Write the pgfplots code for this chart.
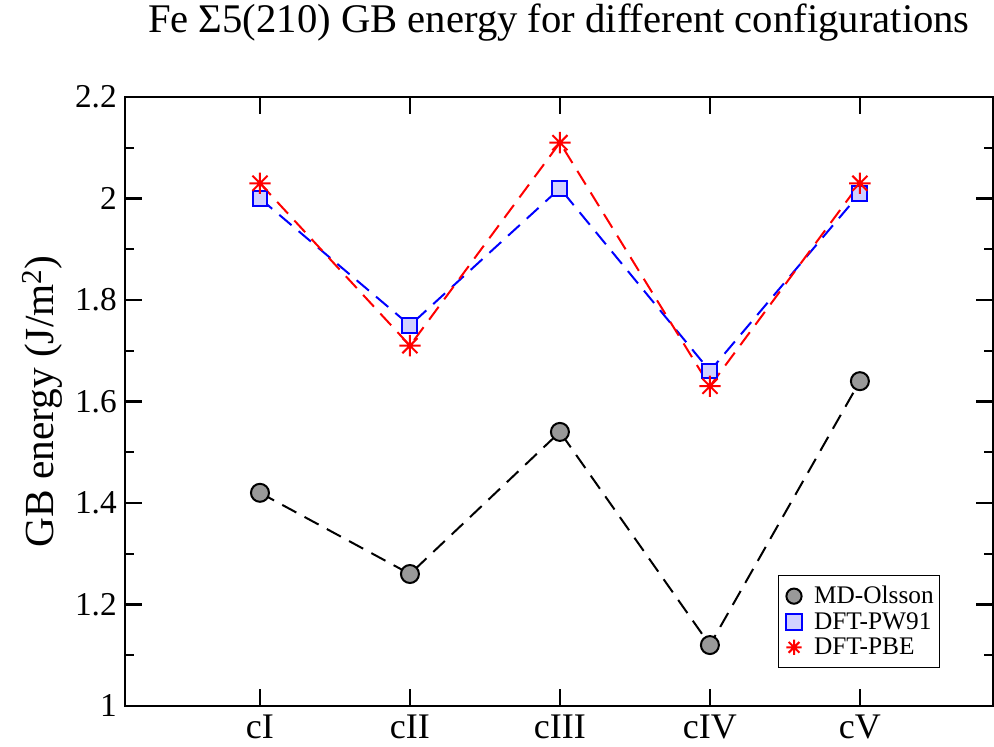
\documentclass[border=0pt]{standalone}
\usepackage{pgfplots}
\pgfplotsset{compat=1.18}
\usepackage{pgfplotstable}
\usepackage{fontspec}
\setmainfont{Liberation Serif}

% 8-spoke asterisk as drawn by xmgrace
\pgfdeclareplotmark{gstar}{%
  \pgfpathmoveto{\pgfqpoint{0pt}{\pgfplotmarksize}}\pgfpathlineto{\pgfqpoint{0pt}{-\pgfplotmarksize}}%
  \pgfpathmoveto{\pgfqpoint{\pgfplotmarksize}{0pt}}\pgfpathlineto{\pgfqpoint{-\pgfplotmarksize}{0pt}}%
  \pgfpathmoveto{\pgfqpoint{0.707\pgfplotmarksize}{0.707\pgfplotmarksize}}\pgfpathlineto{\pgfqpoint{-0.707\pgfplotmarksize}{-0.707\pgfplotmarksize}}%
  \pgfpathmoveto{\pgfqpoint{-0.707\pgfplotmarksize}{0.707\pgfplotmarksize}}\pgfpathlineto{\pgfqpoint{0.707\pgfplotmarksize}{-0.707\pgfplotmarksize}}%
  \pgfusepathqstroke}

\pgfplotstableread{
x  y
1  1.42
2  1.26
3  1.54
4  1.12
5  1.64
}\olsson
\pgfplotstableread{
x  y
1  2.00
2  1.75
3  2.02
4  1.66
5  2.01
}\pwn
\pgfplotstableread{
x  y
1  2.03
2  1.71
3  2.11
4  1.63
5  2.03
}\pbe

\begin{document}
\begin{tikzpicture}
\begin{axis}[
  name=ax,
  scale only axis,
  width=651pt, height=456.75pt,
  xmin=0.1, xmax=5.887,
  ymin=1, ymax=2.2,
  xtick={1,2,3,4,5},
  xticklabels={cI,cII,cIII,cIV,cV},
  ytick={1,1.2,1.4,1.6,1.8,2,2.2},
  minor y tick num=1,
  tick align=inside,
  major tick length=12.75pt,
  minor tick length=7pt,
  axis line style={line width=1.6pt},
  every tick/.style={black, line width=1.6pt},
  /pgf/number format/assume math mode=true,
  tick label style={font=\fontsize{25}{28}\selectfont, inner sep=0pt},
  xticklabel style={font=\fontsize{27}{30}\selectfont, yshift=-6.75pt},
  yticklabel style={xshift=-6pt},
  title={Fe Σ5(210) GB energy for different configurations},
  title style={font=\fontsize{30.5}{34}\selectfont, inner sep=0pt, at={(axis description cs:0.5,1)}, anchor=center, yshift=49.5pt},
  ylabel={GB energy (J/m\textsuperscript{2})},
  ylabel style={font=\fontsize{31}{34}\selectfont, inner sep=0pt, at={(axis description cs:-0.095,0.5)}, anchor=center},
  legend style={at={(axis cs:4.453,1.258)}, anchor=north west,
    font=\fontsize{19}{21}\selectfont, draw=black, line width=1pt,
    inner xsep=2.5pt, inner ysep=6pt, row sep=1pt, cells={anchor=west}},
  legend image code/.code={\path[draw=none, fill=none] (0cm,0cm) -- (0.78cm,0cm);
    \draw[#1, mark size=5.7pt] plot coordinates {(0.32cm,0cm)};},
]
% dashed connecting lines
\addplot[black, line width=1.5pt, dash pattern=on 12pt off 7pt, forget plot] table[x=x,y=y] {\olsson};
\addplot[blue, line width=1.5pt, dash pattern=on 12pt off 7pt, forget plot] table[x=x,y=y] {\pwn};
\addplot[red, line width=1.5pt, dash pattern=on 12pt off 7pt, forget plot] table[x=x,y=y] {\pbe};
% markers
\addplot[only marks, mark=*, mark size=6.75pt, mark options={draw=black, fill=gray!80, line width=1.5pt}] table[x=x,y=y] {\olsson};
\addplot[only marks, mark=square*, mark size=5.6pt, mark options={draw=blue, fill=blue!18, line width=1.5pt}] table[x=x,y=y] {\pwn};
\addplot[only marks, mark=gstar, mark size=8pt, mark options={draw=red, line width=1.5pt}] table[x=x,y=y] {\pbe};
\legend{MD-Olsson, DFT-PW91, DFT-PBE}
\end{axis}
\path ([shift={(-93.75pt,-30.75pt)}]ax.south west) rectangle ([shift={(0.75pt,72.75pt)}]ax.north east);
\end{tikzpicture}
\end{document}
